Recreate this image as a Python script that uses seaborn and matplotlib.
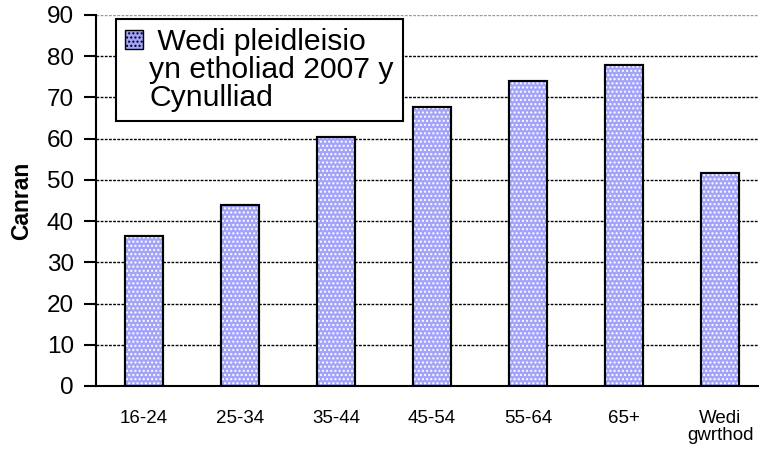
import matplotlib
matplotlib.use("Agg")
import matplotlib.pyplot as plt
from matplotlib.patches import Rectangle
import seaborn as sns
import pandas as pd

# data
categories = ["16-24", "25-34", "35-44", "45-54", "55-64", "65+", "Wedi\ngwrthod"]
values = [36.5, 43.8, 60.4, 67.8, 73.9, 77.8, 51.6]
legend_lines = [" Wedi pleidleisio", "yn etholiad 2007 y", "Cynulliad"]
y_ticks = list(range(0, 91, 10))

sns.set_style("white")
plt.rcParams['font.family'] = ['Liberation Sans', 'DejaVu Sans']
plt.rcParams['text.color'] = 'black'
plt.rcParams['axes.labelcolor'] = 'black'
plt.rcParams['xtick.color'] = 'black'
plt.rcParams['ytick.color'] = 'black'
plt.rcParams['hatch.color'] = 'white'

df = pd.DataFrame({"grwp": categories, "canran": values})

fig = plt.figure(figsize=(7.59, 4.5), dpi=100)
ax = fig.add_axes([96 / 759, 64 / 450, 672 / 759, 371 / 450])

bar_col = "#a3a3fa"
sns.barplot(data=df, x="grwp", y="canran", color=bar_col, width=0.4,
            edgecolor="black", linewidth=1.5, saturation=1, ax=ax, zorder=3)

# white dotted pattern on top of the bars
for p in list(ax.patches):
    ax.add_patch(Rectangle(p.get_xy(), p.get_width(), p.get_height(),
                           facecolor="none", edgecolor="white", hatch="....",
                           linewidth=0, zorder=3.5))
    ax.add_patch(Rectangle(p.get_xy(), p.get_width(), p.get_height(),
                           facecolor="none", edgecolor="black",
                           linewidth=1.5, zorder=4))

ax.set_xlim(-0.5, 6.5)
ax.set_ylim(0, 90)
ax.set_yticks(y_ticks)
ax.set_yticklabels([str(v) for v in y_ticks], fontsize=17.5)
ax.set_xticks(range(len(categories)))
ax.set_xticklabels(categories, fontsize=13.5, linespacing=1.0)
ax.set_xticks([i + 0.5 for i in range(-1, len(categories) - 1)], minor=True)
ax.tick_params(axis="x", which="major", length=0, pad=17)
ax.tick_params(axis="x", which="minor", length=6, width=1.5, direction="out")
ax.tick_params(axis="y", length=9, width=1.5, direction="out", pad=7, left=True)

ax.set_xlabel("")
ax.set_ylabel("Canran", fontsize=16.5, fontweight="bold")
ax.yaxis.set_label_coords(-0.094, 0.5)

ax.yaxis.grid(True, color="black", linestyle=(0, (2, 1)), linewidth=1)
ax.set_axisbelow(True)
ax.yaxis.get_gridlines()[-1].set_color("#999999")

for s in ["top", "right"]:
    ax.spines[s].set_visible(False)
for s in ["left", "bottom"]:
    ax.spines[s].set_color("black")
    ax.spines[s].set_linewidth(1.5)
    ax.spines[s].set_zorder(5)

# legend: one coloured key for the first line, blank keys for the wrapped lines
handles = [Rectangle((0, 0), 1, 1, facecolor=bar_col, edgecolor="black",
                     hatch="....", linewidth=1)]
handles += [Rectangle((0, 0), 1, 1, facecolor="none", edgecolor="none")
            for _ in legend_lines[1:]]
leg = ax.legend(handles, legend_lines, loc="upper left",
                bbox_to_anchor=(20 / 672, 367 / 371), borderaxespad=0,
                fontsize=21.7, frameon=True, fancybox=False, framealpha=1,
                edgecolor="black", handlelength=0.6, handleheight=0.6,
                handletextpad=0.2, labelspacing=0.0, borderpad=0.3)
leg.get_frame().set_linewidth(1.5)
leg.set_zorder(6)

fig.savefig("out.png", dpi=100)
